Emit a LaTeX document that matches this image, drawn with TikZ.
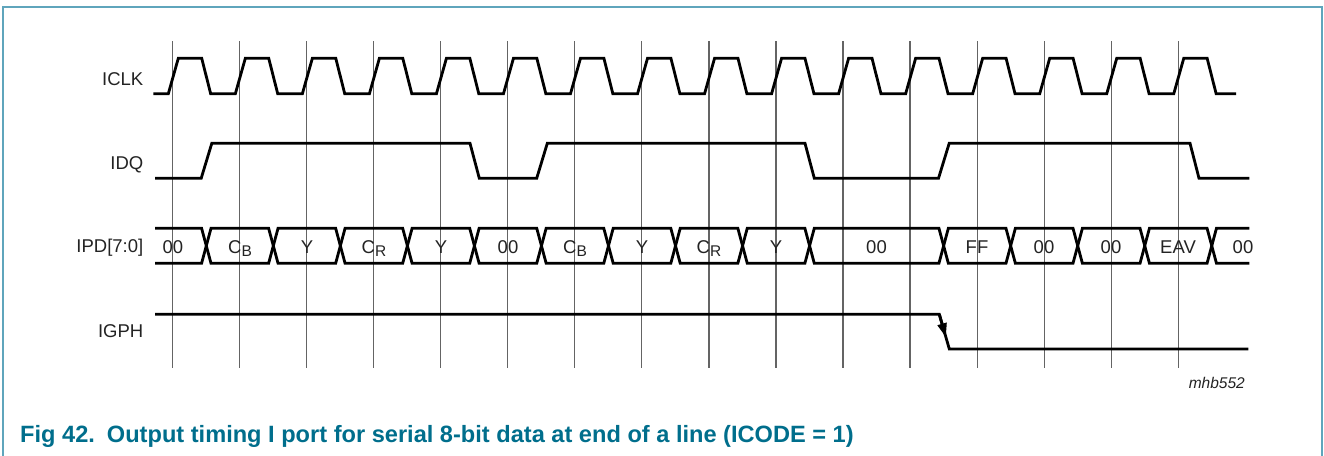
\documentclass[tikz,border=0pt]{standalone}
\usepackage{fontspec}
\setmainfont{Liberation Sans}
\usetikzlibrary{arrows.meta}
\definecolor{frameteal}{RGB}{95,165,188}
\definecolor{capteal}{RGB}{0,110,140}
\definecolor{gridgray}{RGB}{100,100,100}
\definecolor{txt}{RGB}{35,35,35}
\newcommand{\subl}[1]{\raisebox{-3pt}{\fontsize{15.5}{16}\selectfont #1}}
\begin{document}
\begin{tikzpicture}[x=1pt,y=-1pt,
  sig/.style={line width=2.8pt,black,line join=miter},
  gridline/.style={line width=1.1pt,gridgray},
  siglabel/.style={anchor=base east,inner sep=0pt,text=txt,font=\fontsize{18.5}{22}\selectfont},
  buslabel/.style={anchor=base,inner sep=0pt,text=txt,font=\fontsize{18.5}{22}\selectfont},
  framestyle/.style={line width=1.6pt,frameteal}]
\useasboundingbox (0,0) rectangle (1324,455);
% frame
\draw[framestyle] (3,456) -- (3,7) -- (1322,7) -- (1322,456);
% grid
\foreach \k in {0,...,15}{
  \draw[gridline] ({172.7+67.03*\k},41) -- ({172.7+67.03*\k},368);
}
% labels
\node[siglabel] (lclk) at (143.5,85) {ICLK};
\node[siglabel] (ldq) at (143.5,169) {IDQ};
\node[siglabel] (lpd) at (143.5,252.3) {IPD[7:0]};
\node[siglabel] (lgph) at (143.5,337.3) {IGPH};
% ICLK
\draw[sig] (153.3,93.8) foreach \k in {0,...,15} {
  -- ({172.7+67.03*\k-4.4},93.8) -- ({172.7+67.03*\k+5.6},58.3)
  -- ({172.7+67.03*\k+29},58.3) -- ({172.7+67.03*\k+38},93.8) } -- (1236,93.8);
% IDQ
\draw[sig] (155,178.3) -- (201.2,178.3) -- (211.8,143.3) -- (470,143.3) -- (479.3,178.3)
  -- (536.7,178.3) -- (547.3,143.3) -- (805,143.3) -- (814.3,178.3) -- (938.5,178.3)
  -- (949.2,143.3) -- (1190,143.3) -- (1199,178.3) -- (1249.3,178.3);
% IPD bus
\def\bt{228.3}\def\bb{263.3}\def\bm{245.8}\def\bh{4.7}
\draw[sig] (155,\bt) -- ({206.3-\bh},\bt) -- (206.3,\bm) -- ({206.3-\bh},\bb) -- (155,\bb);
\foreach \a/\b in {206.3/273.33,273.33/340.36,340.36/407.39,407.39/474.42,474.42/541.45,
  541.45/608.48,608.48/675.51,675.51/742.54,742.54/809.57,809.57/943.63,943.63/1010.66,
  1010.66/1077.69,1077.69/1144.72,1144.72/1211.75}{
  \draw[sig] (\a,\bm) -- ({\a+\bh},\bt) -- ({\b-\bh},\bt) -- (\b,\bm) -- ({\b-\bh},\bb) -- ({\a+\bh},\bb) -- cycle;
}
\draw[sig] (1249.3,\bt) -- ({1211.75+\bh},\bt) -- (1211.75,\bm) -- ({1211.75+\bh},\bb) -- (1249.3,\bb);
% bus labels
\node[buslabel] (d0) at (173,253) {00};
\node[buslabel] (d1) at (240,253) {C\subl{B}};
\node[buslabel] (d2) at (307,253) {Y};
\node[buslabel] (d3) at (374,253) {C\subl{R}};
\node[buslabel] (d4) at (441,253) {Y};
\node[buslabel] (d5) at (508,253) {00};
\node[buslabel] (d6) at (575,253) {C\subl{B}};
\node[buslabel] (d7) at (642,253) {Y};
\node[buslabel] (d8) at (709,253) {C\subl{R}};
\node[buslabel] (d9) at (776,253) {Y};
\node[buslabel] (d10) at (876.5,253) {00};
\node[buslabel] (d11) at (977,253) {FF};
\node[buslabel] (d12) at (1044,253) {00};
\node[buslabel] (d13) at (1111,253) {00};
\node[buslabel] (d14) at (1178,253) {EAV};
\node[buslabel] (d15) at (1243,253) {00};
% IGPH
\coordinate (gh) at (939.3,314.3);
\coordinate (ga) at (945.9,337.3);
\draw[sig] (155,314.3) -- (gh) -- (949.3,349) -- (1248.3,349);
\draw[sig,-{Triangle[length=14pt,width=9pt]}] (gh) -- (ga);
% id
\node[anchor=base east,inner sep=0pt,text=txt,font=\fontsize{15.5}{18}\selectfont\itshape] (id) at (1245,388) {mhb552};
% caption
\node[anchor=base west,inner sep=0pt,text=capteal,font=\fontsize{23.6}{27}\selectfont\bfseries] (cap) at (20,442) {Fig 42.\hspace{12pt}Output timing I port for serial 8-bit data at end of a line (ICODE = 1)};
\end{tikzpicture}
\end{document}
